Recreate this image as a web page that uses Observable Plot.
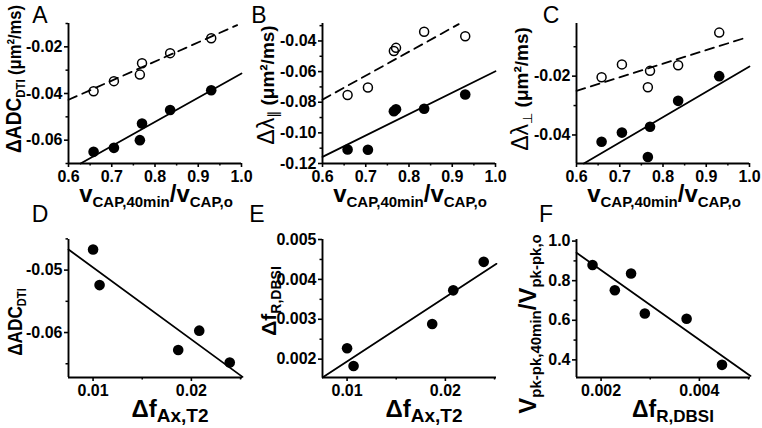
<!DOCTYPE html>
<html><head><meta charset="utf-8">
<script src="https://cdn.jsdelivr.net/npm/d3@7"></script>
<script src="https://cdn.jsdelivr.net/npm/@observablehq/plot@0.6"></script>
<style>
body{margin:0;background:#fff;}
#fig{position:relative;width:762px;height:428px;background:#fff;}
#fig svg{position:absolute;overflow:visible;}
</style></head><body><div id="fig"></div>
<script>
// ---- data ----
const capRatio     = [0.658, 0.705, 0.765, 0.770, 0.835, 0.930];
const adcFilled    = [-0.0650, -0.0633, -0.0600, -0.0529, -0.0471, -0.0386];
const adcOpen      = [-0.0390, -0.0347, -0.0319, -0.0270, -0.0227, -0.0163];
const axialFilled  = [-0.1109, -0.1110, -0.0859, -0.0846, -0.0843, -0.0750];
const axialOpen    = [-0.0753, -0.0704, -0.0465, -0.0445, -0.0340, -0.0369];
const radialFilled = [-0.0423, -0.0392, -0.0475, -0.0372, -0.0284, -0.0200];
const radialOpen   = [-0.0204, -0.0160, -0.0238, -0.0182, -0.0163, -0.0052];
const fAx          = [0.0100, 0.01066, 0.01866, 0.0208, 0.0239];
const adcDTI       = [-0.0467, -0.0524, -0.0628, -0.0597, -0.0648];
const fRdbsiE      = [0.002275, 0.00183, 0.00288, 0.003725, 0.00444];
const fRdbsiF      = [0.001826, 0.00228, 0.00261, 0.00289, 0.00374, 0.00446];
const vppRatio     = [0.879, 0.752, 0.836, 0.634, 0.608, 0.375];
// fitted lines (end points)
const fitA_sx = [0.628, 1.0],  fitA_sy = [-0.0700, -0.0314];
const fitA_dx = [0.6, 0.99],   fitA_dy = [-0.0427, -0.0107];
const fitB_sx = [0.6, 1.0],    fitB_sy = [-0.1157, -0.0598];
const fitB_dx = [0.6, 0.915],  fitB_dy = [-0.0783, -0.0290];
const fitC_sx = [0.617, 1.0],  fitC_sy = [-0.0497, -0.0167];
const fitC_dx = [0.6, 0.99],   fitC_dy = [-0.0250, -0.0070];
const fitD_x = [0.0075, 0.0252], fitD_y = [-0.0467, -0.0671];
const fitE_x = [0.0075, 0.0252], fitE_y = [0.00154, 0.00439];
const fitF_x = [0.0015, 0.00504], fitF_y = [0.941, 0.319];
// tick values
const capTicks = [0.6, 0.7, 0.8, 0.9, 1.0], capMinor = [0.65, 0.75, 0.85, 0.95];
const yTicksA = [-0.06, -0.04, -0.02], yMinorA = [-0.07, -0.05, -0.03, -0.01];
const yTicksB = [-0.12, -0.10, -0.08, -0.06, -0.04], yMinorB = [-0.11, -0.09, -0.07, -0.05, -0.03];
const yTicksC = [-0.04, -0.02], yMinorC = [-0.03, -0.01];
const fAxTicks = [0.01, 0.02], fAxMinor = [0.015, 0.025];
const yTicksD = [-0.06, -0.05], yMinorD = [-0.065, -0.055, -0.045];
const yTicksE = [0.002, 0.003, 0.004, 0.005], yMinorE = [0.0025, 0.0035, 0.0045];
const xTicksF = [0.002, 0.004], xMinorF = [0.003, 0.005];
const yTicksF = [0.4, 0.6, 0.8, 1.0], yMinorF = [0.5, 0.7, 0.9];

const FONT = '"Liberation Sans", Arial, Helvetica, sans-serif';
const fig = document.getElementById("fig");
const f2 = d => d.toFixed(2), f1 = d => d.toFixed(1), f3 = d => d.toFixed(3);

function richText(sel, parts, attrs) {
  const t = sel.append("text").attr("font-family", FONT).attr("fill", "#000").style("white-space", "pre");
  for (const [k, v] of Object.entries(attrs)) t.attr(k, v);
  let cur = 0;
  for (const p of parts) {
    const shift = p.shift || 0;
    const ts = t.append("tspan").text(p.t).attr("font-size", p.size).attr("dy", shift - cur)
      .attr("font-weight", p.weight || "normal");
    if (p.family) ts.attr("font-family", p.family);
    cur = shift;
  }
  return t;
}

function panel(o) {
  const W = 254, H = 214;
  const svg = Plot.plot({
    width: W, height: H,
    marginLeft: o.mL, marginTop: o.mT, marginRight: o.mR, marginBottom: o.mB,
    x: {domain: o.xDomain}, y: {domain: o.yDomain},
    style: {fontFamily: FONT, fontSize: "16px", fontWeight: "bold", color: "#000", background: "transparent", overflow: "visible"},
    marks: [
      Plot.axisX(o.xTicks, {tickSize: 4, tickPadding: 3, tickFormat: o.xFmt, label: null, strokeWidth: 1.6}),
      Plot.axisX(o.xMinor, {tickSize: 2.5, tickFormat: () => "", label: null, strokeWidth: 1.5}),
      Plot.axisY(o.yTicks, {tickSize: 4, tickPadding: 2, tickFormat: o.yFmt, label: null, strokeWidth: 1.6}),
      Plot.axisY(o.yMinor, {tickSize: 2.5, tickFormat: () => "", label: null, strokeWidth: 1.5}),
      Plot.ruleX([o.xDomain[0]], {strokeWidth: 1.9}),
      Plot.ruleY([o.yDomain[0]], {strokeWidth: 1.9}),
      ...o.marks
    ]
  });
  svg.style.left = o.left + "px";
  svg.style.top = o.top + "px";
  fig.appendChild(svg);
  const s = d3.select(svg);
  s.append("text").text(o.letter).attr("x", o.letterX).attr("y", o.letterY)
    .attr("font-family", FONT).attr("font-size", 23).attr("font-weight", "normal").attr("fill", "#000");
  return s;
}

const solid = (xs, ys) => Plot.line(xs, {x: xs, y: ys, stroke: "#000", strokeWidth: 1.8});
const dashed = (xs, ys) => Plot.line(xs, {x: xs, y: ys, stroke: "#000", strokeWidth: 1.8, strokeDasharray: "9,6"});
const filled = (xs, ys) => Plot.dot(xs, {x: xs, y: ys, r: 5.3, fill: "#000", stroke: null});
const open = (xs, ys) => Plot.dot(xs, {x: xs, y: ys, r: 4.5, fill: "none", stroke: "#000", strokeWidth: 1.5});

const capLabel = [
  {t: "v", size: 24, weight: "bold"},
  {t: "CAP,40min", size: 15, weight: "bold", shift: 5},
  {t: "/", size: 24, weight: "bold"},
  {t: "v", size: 24, weight: "bold"},
  {t: "CAP,o", size: 15, weight: "bold", shift: 5}
];
const units = [{t: " (μm²/ms)", size: 19, weight: "bold"}];

// ---- Panel A ----
let s = panel({left: 0, top: 0, mL: 68, mT: 23, mR: 13, mB: 51, letter: "A", letterX: 40, letterY: 23,
  xDomain: [0.6, 1.0], yDomain: [-0.07, -0.01], xTicks: capTicks, xMinor: capMinor, yTicks: yTicksA, yMinor: yMinorA,
  xFmt: f1, yFmt: f2,
  marks: [dashed(fitA_dx, fitA_dy), solid(fitA_sx, fitA_sy), open(capRatio, adcOpen), filled(capRatio, adcFilled)]});
richText(s, capLabel, {"text-anchor": "middle", x: 156, y: 202});
richText(s, [{t: "ΔADC", size: 22, weight: "bold"}, {t: "DTI", size: 13, weight: "bold", shift: 4}, ...units],
  {"text-anchor": "middle", transform: "translate(21,79) rotate(-90) scale(0.87,1)"});

// ---- Panel B ----
s = panel({left: 254, top: 0, mL: 68, mT: 23, mR: 13, mB: 51, letter: "B", letterX: 5, letterY: 23,
  xDomain: [0.6, 1.0], yDomain: [-0.12, -0.0286], xTicks: capTicks, xMinor: capMinor, yTicks: yTicksB, yMinor: yMinorB,
  xFmt: f1, yFmt: f2,
  marks: [dashed(fitB_dx, fitB_dy), solid(fitB_sx, fitB_sy), open(capRatio, axialOpen), filled(capRatio, axialFilled)]});
richText(s, capLabel, {"text-anchor": "middle", x: 156, y: 202});
richText(s, [{t: "Δλ", size: 23}, {t: "∥", size: 14, shift: 4, family: "DejaVu Sans"}, ...units],
  {"text-anchor": "middle", transform: "translate(20,85) rotate(-90)"});

// ---- Panel C ----
s = panel({left: 508, top: 0, mL: 68, mT: 23, mR: 13, mB: 51, letter: "C", letterX: 43, letterY: 23,
  xDomain: [0.6, 1.0], yDomain: [-0.0497, -0.0021], xTicks: capTicks, xMinor: capMinor, yTicks: yTicksC, yMinor: yMinorC,
  xFmt: f1, yFmt: f2,
  marks: [dashed(fitC_dx, fitC_dy), solid(fitC_sx, fitC_sy), open(capRatio, radialOpen), filled(capRatio, radialFilled)]});
richText(s, capLabel, {"text-anchor": "middle", x: 156, y: 202});
richText(s, [{t: "Δλ", size: 23}, {t: "⊥", size: 13, shift: 4, family: "DejaVu Sans"}, ...units],
  {"text-anchor": "middle", transform: "translate(20,89) rotate(-90)"});

// ---- Panel D ----
const fAxLabel = [{t: "Δf", size: 24, weight: "bold"}, {t: "Ax,T2", size: 19, weight: "bold", shift: 5}];
const fRLabel = [{t: "Δf", size: 23, weight: "bold"}, {t: "R,DBSI", size: 17, weight: "bold", shift: 5}];
s = panel({left: 0, top: 214, mL: 68, mT: 25, mR: 12, mB: 51, letter: "D", letterX: 40, letterY: 8,
  xDomain: [0.0075, 0.0252], yDomain: [-0.0672, -0.0451], xTicks: fAxTicks, xMinor: fAxMinor, yTicks: yTicksD, yMinor: yMinorD,
  xFmt: f2, yFmt: f2,
  marks: [solid(fitD_x, fitD_y), filled(fAx, adcDTI)]});
richText(s, fAxLabel, {"text-anchor": "middle", x: 170, y: 203});
richText(s, [{t: "ΔADC", size: 20, weight: "bold"}, {t: "DTI", size: 13, weight: "bold", shift: 4}],
  {"text-anchor": "middle", transform: "translate(22,108) rotate(-90) scale(0.86,1)"});

// ---- Panel E ----
s = panel({left: 254, top: 214, mL: 68, mT: 25, mR: 12, mB: 51, letter: "E", letterX: 3, letterY: 8,
  xDomain: [0.0075, 0.0252], yDomain: [0.00154, 0.005], xTicks: fAxTicks, xMinor: fAxMinor, yTicks: yTicksE, yMinor: yMinorE,
  xFmt: f2, yFmt: f3,
  marks: [solid(fitE_x, fitE_y), filled(fAx, fRdbsiE)]});
richText(s, fAxLabel, {"text-anchor": "middle", x: 170, y: 203});
richText(s, [{t: "Δf", size: 21, weight: "bold"}, {t: "R,DBSI", size: 14, weight: "bold", shift: 5}],
  {"text-anchor": "middle", transform: "translate(22,87) rotate(-90)"});

// ---- Panel F ----
s = panel({left: 508, top: 214, mL: 68, mT: 25, mR: 12, mB: 51, letter: "F", letterX: 38, letterY: 8,
  xDomain: [0.0015, 0.00504], yDomain: [0.311, 1.008], xTicks: xTicksF, xMinor: xMinorF, yTicks: yTicksF, yMinor: yMinorF,
  xFmt: f3, yFmt: f1,
  marks: [solid(fitF_x, fitF_y), filled(fRdbsiF, vppRatio)]});
richText(s, fRLabel, {"text-anchor": "middle", x: 165, y: 203});
richText(s, [{t: "V", size: 24, weight: "bold"}, {t: "pk-pk,40min", size: 15, weight: "bold", shift: 5},
             {t: "/", size: 24, weight: "bold"}, {t: "V", size: 24, weight: "bold"}, {t: "pk-pk,o", size: 15, weight: "bold", shift: 5}],
  {"text-anchor": "middle", transform: "translate(28,110) rotate(-90)"});
</script></body></html>
